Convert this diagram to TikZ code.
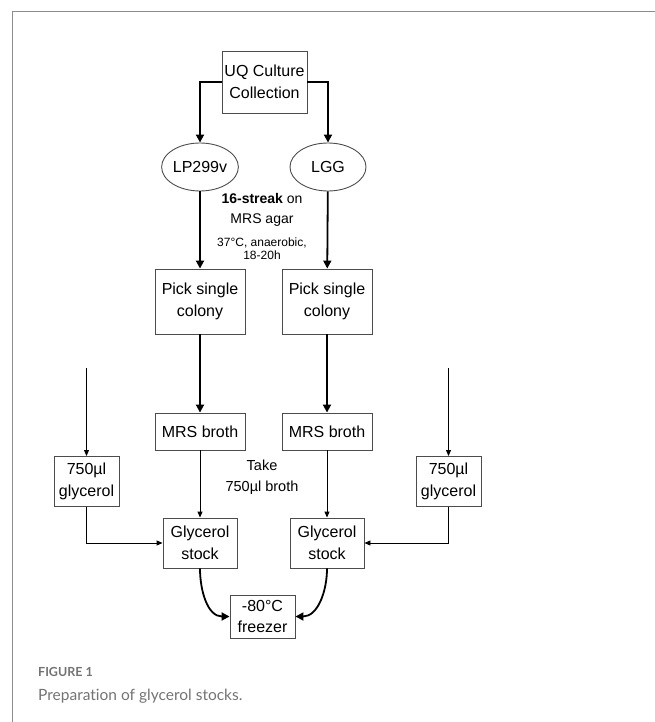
\documentclass[tikz,border=0pt]{standalone}
\usepackage{fontspec}
\setmainfont{Liberation Sans}
\newfontfamily\capfont[Ligatures=NoCommon]{Lato}
\usetikzlibrary{arrows.meta,shapes.geometric}

\tikzstyle{stepbox} = [draw=black!70,line width=0.9pt,align=center,inner sep=0pt,font=\fontsize{16}{21.5}\selectfont]
\tikzstyle{strain} = [draw=black!70,line width=0.9pt,ellipse,minimum width=76pt,minimum height=48pt,inner sep=0pt,font=\fontsize{16}{21.5}\selectfont]
\tikzstyle{thick edge} = [draw,line width=1.8pt,-{Triangle[length=8pt,width=8pt]}]
\tikzstyle{thin edge} = [draw,line width=0.9pt,-{Triangle[length=6pt,width=5pt]}]
\tikzstyle{note} = [align=center,inner sep=0pt]

\begin{document}
\begin{tikzpicture}[x=1pt,y=-1pt]
     \useasboundingbox (0,0) rectangle (655,722);
     % frame of the figure panel
     \draw[black!45,line width=1pt] (655,12) -- (12,12) -- (12,722);

     % the boxes of the flow
     \node[stepbox,minimum width=85pt,minimum height=62pt] (uq) at (264.5,82) {UQ Culture\\Collection};
     \foreach \pos/\name/\label in {{(200,167)/lp/LP299v},{(328,167)/lgg/LGG}}
     \node[strain] (\name) at \pos {\label};

     \foreach \pos/\name in {{(200,301.5)/pick1},{(327,301.5)/pick2}}
     \node[stepbox,minimum width=90pt,minimum height=65pt] (\name) at \pos {Pick single\\colony};

     \foreach \pos/\name in {{(200,431.5)/mrs1},{(327,431.5)/mrs2}}
     \node[stepbox,minimum width=90pt,minimum height=37pt] (\name) at \pos {MRS broth};

     \foreach \pos/\name in {{(86.5,481.5)/gly1},{(448.5,481.5)/gly2}}
     \node[stepbox,minimum width=65pt,minimum height=50pt] (\name) at \pos {750µl\\glycerol};

     \foreach \pos/\name in {{(200,543)/gs1},{(327,543)/gs2}}
     \node[stepbox,minimum width=74pt,minimum height=50pt] (\name) at \pos {Glycerol\\stock};

     \node[stepbox,minimum width=65pt,minimum height=43pt] (fr) at (262.5,616.5) {-80°C\\freezer};

     % texts between the columns
     \node[note,font=\fontsize{14}{20}\selectfont] (streak) at (262,210) {\textbf{16-streak} on\\MRS agar};
     \node[note,font=\fontsize{12}{13}\selectfont] (cond) at (262,249) {37°C, anaerobic,\\18-20h};
     \node[note,font=\fontsize{14.5}{21}\selectfont] (take) at (262,477) {Take\\750µl broth};

     \coordinate (in1) at (86.5,368);
     \coordinate (in2) at (448.5,368);

     % connect the boxes
     \path[thick edge] (uq.west) -| (lp.north);
     \path[thick edge] (uq.east) -| (lgg.north);
     \foreach \source/\dest in {lp/pick1, lgg/pick2, pick1/mrs1, pick2/mrs2}
     \path[thick edge] (\source) -- (\dest);
     \foreach \source/\dest in {mrs1/gs1, mrs2/gs2, in1/gly1, in2/gly2}
     \path[thin edge] (\source) -- (\dest);
     \path[thin edge] (gly1) |- (gs1);
     \path[thin edge] (gly2) |- (gs2);
     \path[thick edge] (gs1.south) to[out=-90,in=180] (fr.west);
     \path[thick edge] (gs2.south) to[out=-90,in=0] (fr.east);

     % caption
     \node[anchor=base west,inner sep=0pt,text=black!55,font=\capfont\bfseries\fontsize{12.5}{15}\selectfont] (fig) at (38,676) {FIGURE 1};
     \node[anchor=base west,inner sep=0pt,text=black!55,font=\capfont\fontsize{15.5}{19}\selectfont] (cap) at (38,700) {Preparation of glycerol stocks.};
\end{tikzpicture}
\end{document}
